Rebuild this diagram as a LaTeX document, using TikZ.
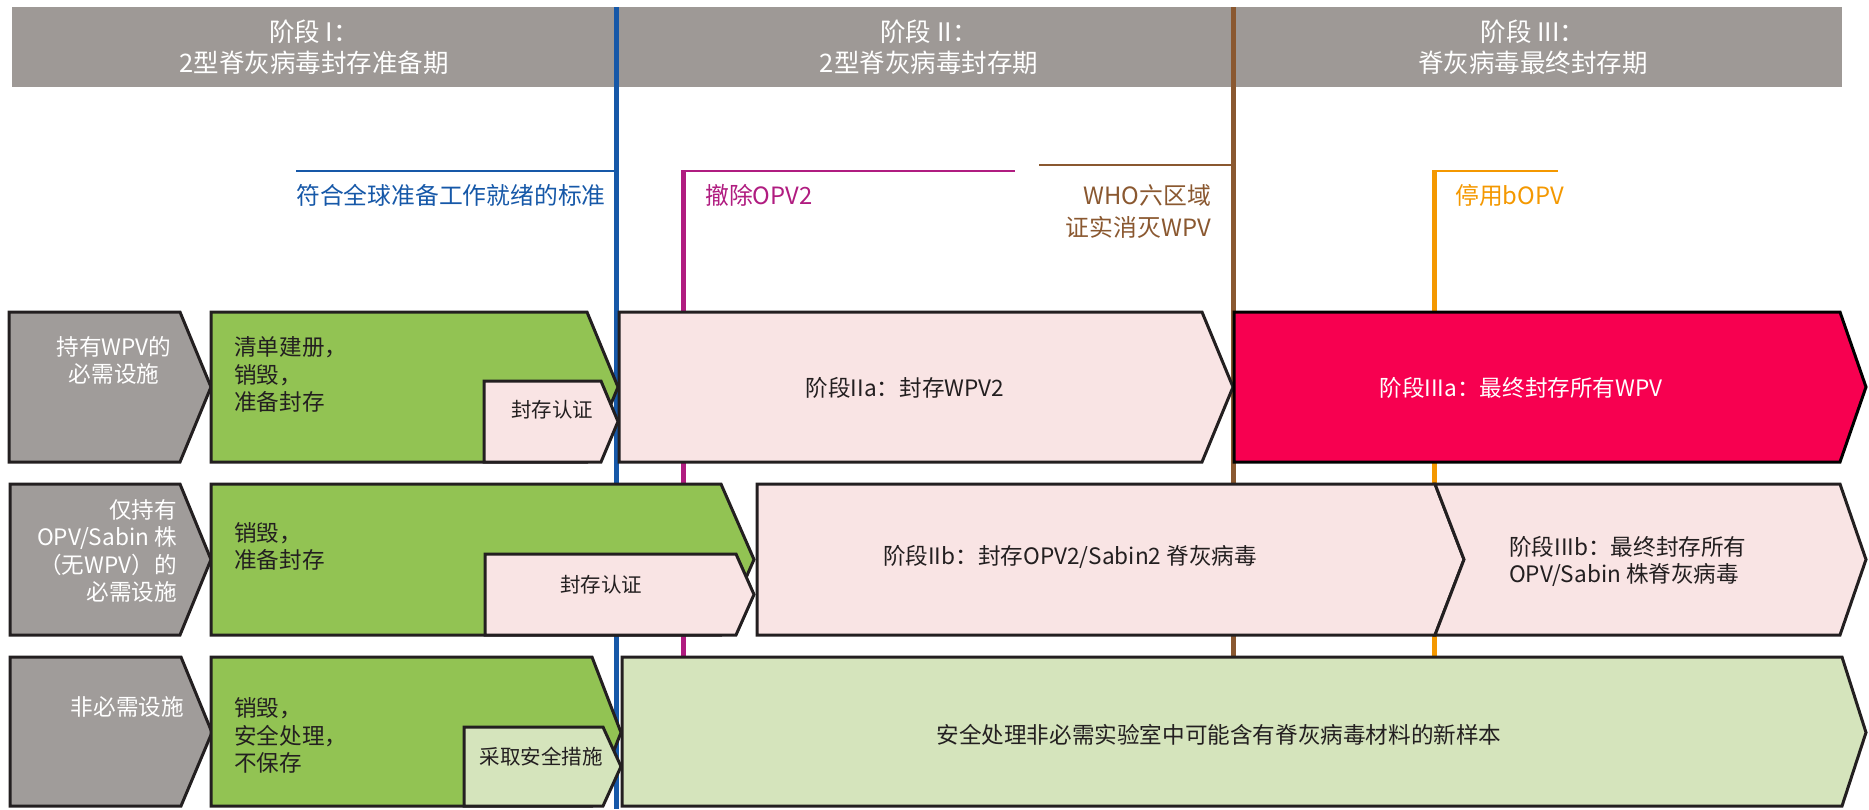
\documentclass[tikz,border=0pt]{standalone}
\usepackage{fontspec}
\setmainfont{Noto Sans CJK SC}
\definecolor{hdrgray}{RGB}{158,153,150}
\definecolor{boxgray}{RGB}{160,156,154}
\definecolor{leafgreen}{RGB}{146,195,83}
\definecolor{palepink}{RGB}{249,228,228}
\definecolor{hotred}{RGB}{247,0,80}
\definecolor{palegreen}{RGB}{213,228,188}
\definecolor{msblue}{RGB}{22,88,168}
\definecolor{msmagenta}{RGB}{176,28,128}
\definecolor{msbrown}{RGB}{138,88,48}
\definecolor{msorange}{RGB}{244,152,0}
\definecolor{ink}{RGB}{35,31,32}
\tikzset{
  chev/.style={draw=ink, line width=3pt, line join=miter},
  hdrtext/.style={text=white, font=\fontsize{25.5}{31}\selectfont, align=center, inner sep=0pt},
  mstext/.style={font=\fontsize{23.8}{32}\selectfont, inner sep=0pt},
  boxtext/.style={text=ink, font=\fontsize{22.6}{27.5}\selectfont, inner sep=0pt},
  whitetext/.style={text=white, font=\fontsize{22.6}{27.5}\selectfont, inner sep=0pt},
  smalltext/.style={text=ink, font=\fontsize{20.5}{24}\selectfont, inner sep=0pt},
  mline/.style={line width=5pt},
  tline/.style={line width=1.5pt}
}
\begin{document}
\begin{tikzpicture}[x=1pt,y=-1pt]
\useasboundingbox (0,0) rectangle (1869,809);
% header bar
\fill[hdrgray] (12,7) rectangle (1842,87);
\node[hdrtext] (hdrI) at (314,47.5) {阶段 I：\\2型脊灰病毒封存准备期};
\node[hdrtext] (hdrII) at (929,47.5) {阶段 II：\\2型脊灰病毒封存期};
\node[hdrtext] (hdrIII) at (1533,47.5) {阶段 III：\\脊灰病毒最终封存期};
% milestone lines
\coordinate (bTop) at (616,7);
\coordinate (bBot) at (616,809);
\coordinate (bH) at (296,171);
\coordinate (bHe) at (616,171);
\draw[msblue, mline] (bTop) -- (bBot);
\draw[msblue, tline] (bH) -- (bHe);
\coordinate (mTop) at (683,170);
\coordinate (mBot) at (683,700);
\coordinate (mHe) at (1015,171);
\draw[msmagenta, mline] (mTop) -- (mBot);
\draw[msmagenta, tline] (683,171) -- (mHe);
\coordinate (brTop) at (1233,7);
\coordinate (brBot) at (1233,700);
\coordinate (brH) at (1039,165);
\coordinate (brHe) at (1233,165);
\draw[msbrown, mline] (brTop) -- (brBot);
\draw[msbrown, tline] (brH) -- (brHe);
\coordinate (oTop) at (1434,170);
\coordinate (oBot) at (1434,700);
\coordinate (oHe) at (1558,171);
\draw[msorange, mline] (oTop) -- (oBot);
\draw[msorange, line width=2pt] (1434,171) -- (oHe);
% milestone labels
\node[mstext, text=msblue, anchor=west] (msBlue) at (296,195) {符合全球准备工作就绪的标准};
\node[mstext, text=msmagenta, anchor=west] (msMag) at (705,195) {撤除OPV2};
\node[mstext, text=msbrown, anchor=east, align=right] (msBrown) at (1211,211) {WHO六区域\\证实消灭WPV};
\node[mstext, text=msorange, anchor=west] (msOrange) at (1455,195) {停用bOPV};
% Row 1
\filldraw[chev, fill=boxgray] (9,312) -- (180,312) -- (211,387) -- (180,462) -- (9,462) -- cycle;
\filldraw[chev, fill=leafgreen] (211,312) -- (587,312) -- (618,387) -- (587,462) -- (211,462) -- cycle;
\filldraw[chev, fill=palepink] (484,381) -- (601,381) -- (618,421.5) -- (601,462) -- (484,462) -- cycle;
\filldraw[chev, fill=palepink] (619,312) -- (1202,312) -- (1233,387) -- (1202,462) -- (619,462) -- cycle;
\filldraw[chev, draw=black, fill=hotred] (1234,312) -- (1840,312) -- (1866,387) -- (1840,462) -- (1234,462) -- cycle;
\node[whitetext, align=center] (r1a) at (114,360.5) {持有WPV的\\必需设施};
\node[boxtext, anchor=west, align=left] (r1b) at (234,374.5) {清单建册，\\销毁，\\准备封存};
\node[smalltext] (r1c) at (552,410) {封存认证};
\node[boxtext] (r1d) at (905,388) {阶段IIa：封存WPV2};
\node[whitetext] (r1e) at (1521,388) {阶段IIIa：最终封存所有WPV};
% Row 2
\filldraw[chev, fill=boxgray] (10,484) -- (180,484) -- (211,559.5) -- (180,635) -- (10,635) -- cycle;
\filldraw[chev, fill=leafgreen] (211,484) -- (721,484) -- (754,559.5) -- (721,635) -- (211,635) -- cycle;
\filldraw[chev, fill=palepink] (485,554) -- (736,554) -- (754,594.5) -- (736,635) -- (485,635) -- cycle;
\filldraw[chev, fill=palepink] (757,484) -- (1435,484) -- (1464,559.5) -- (1435,635) -- (757,635) -- cycle;
\filldraw[chev, fill=palepink] (1435,484) -- (1840,484) -- (1866,559.5) -- (1840,635) -- (1435,635) -- (1464,559.5) -- cycle;
\node[whitetext, anchor=east, align=right] (r2a) at (177,551) {仅持有\\OPV/Sabin 株\\（无WPV）的\\必需设施};
\node[boxtext, anchor=west, align=left] (r2b) at (234,546.5) {销毁，\\准备封存};
\node[smalltext] (r2c) at (601,585) {封存认证};
\node[boxtext] (r2d) at (1070,557) {阶段IIb：封存OPV2/Sabin2 脊灰病毒};
\node[boxtext, anchor=west, align=left] (r2e) at (1509,561.5) {阶段IIIb：最终封存所有\\OPV/Sabin 株脊灰病毒};
% Row 3
\filldraw[chev, fill=boxgray] (10,657) -- (181,657) -- (212,732.5) -- (181,806) -- (10,806) -- cycle;
\filldraw[chev, fill=leafgreen] (211,657) -- (592,657) -- (621,732.5) -- (592,806) -- (211,806) -- cycle;
\filldraw[chev, fill=palegreen] (464,727) -- (603,727) -- (621,766.5) -- (603,806) -- (464,806) -- cycle;
\filldraw[chev, fill=palegreen] (622,657) -- (1842,657) -- (1866,732.5) -- (1842,806) -- (622,806) -- cycle;
\node[whitetext, anchor=east] (r3a) at (184,707) {非必需设施};
\node[boxtext, anchor=west, align=left] (r3b) at (234,735.5) {销毁，\\安全处理，\\不保存};
\node[smalltext] (r3c) at (541,757) {采取安全措施};
\node[boxtext] (r3d) at (1219,735) {安全处理非必需实验室中可能含有脊灰病毒材料的新样本};
\end{tikzpicture}
\end{document}
